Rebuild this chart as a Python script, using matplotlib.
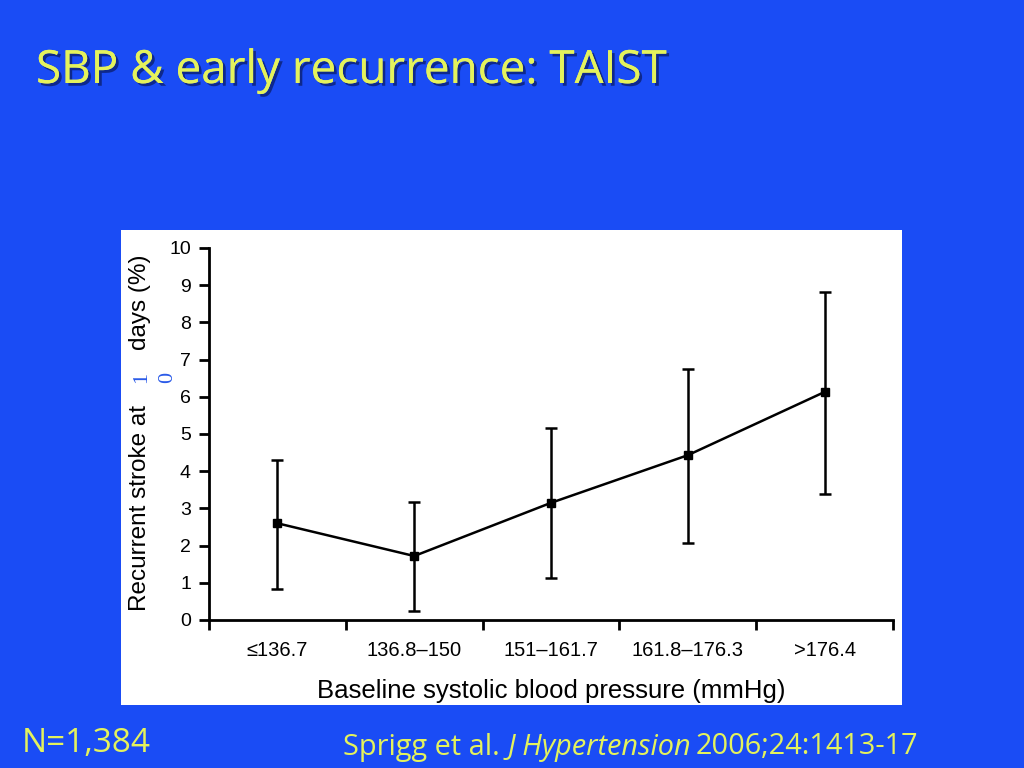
import matplotlib
matplotlib.use("Agg")
import matplotlib.pyplot as plt
import matplotlib.patheffects as pe
from matplotlib.patches import Rectangle

categories = ["≤136.7", "136.8–150", "151–161.7", "161.8–176.3", ">176.4"]
rate = [2.6, 1.72, 3.15, 4.43, 6.13]
ci_low = [0.83, 0.24, 1.13, 2.07, 3.39]
ci_high = [4.3, 3.17, 5.16, 6.75, 8.82]
y_ticks = list(range(0, 11))

BG = "#1a4cf5"
YEL = "#e4f25c"

fig = plt.figure(figsize=(10.24, 7.68), dpi=100)
fig.patch.set_facecolor(BG)

# white panel
fig.patches.append(Rectangle((121/1024, 1-705/768), (902-121)/1024, (705-230)/768,
                             transform=fig.transFigure, facecolor="white",
                             edgecolor="none", zorder=-5))

ax = fig.add_axes([209/1024, 1-620/768, (893-209)/1024, (620-248)/768])
ax.set_zorder(2)
ax.patch.set_alpha(0)

x = list(range(len(categories)))
yerr = [[r - l for r, l in zip(rate, ci_low)], [h - r for r, h in zip(rate, ci_high)]]
ax.errorbar(x, rate, yerr=yerr, fmt="s-", color="black", ms=6, lw=1.8,
            elinewidth=1.8, capsize=4, capthick=1.8, clip_on=False)

ax.set_xlim(-0.5, len(categories) - 0.5)
ax.set_ylim(0, 10)
ax.set_yticks(y_ticks)
ax.set_xticks([i - 0.5 for i in range(len(categories) + 1)])
ax.set_xticklabels([])
ax.set_xticks(x, minor=True)
ax.set_xticklabels(categories, minor=True, fontsize=14.5, family="Liberation Sans")
ax.tick_params(axis="x", which="minor", length=0, pad=15)
ax.tick_params(axis="x", which="major", length=7, width=2, direction="out")
ax.tick_params(axis="y", length=7, width=2, direction="out", labelsize=14, pad=6)
for lab in ax.get_yticklabels():
    lab.set_family("Liberation Sans")
for s in ["top", "right"]:
    ax.spines[s].set_visible(False)
for s in ["left", "bottom"]:
    ax.spines[s].set_linewidth(2)

ax.set_xlabel("Baseline systolic blood pressure (mmHg)", fontsize=18.5,
              family="Liberation Sans", labelpad=14)

# y label pieces
fig.text(140/1024, 1-508/768, "Recurrent stroke at", rotation=90, fontsize=17.5,
         family="Liberation Sans", ha="center", va="center", color="black")
fig.text(142/1024, 1-377/768, "1", rotation=90, fontsize=16,
         family="Liberation Serif", ha="center", va="center", color="#2a5ae8")
fig.text(168/1024, 1-377/768, "0", rotation=90, fontsize=16,
         family="Liberation Serif", ha="center", va="center", color="#2a5ae8")
fig.text(140/1024, 1-302/768, "days (%)", rotation=90, fontsize=17.5,
         family="Liberation Sans", ha="center", va="center", color="black")

shadow = [pe.withSimplePatchShadow(offset=(2, -2), shadow_rgbFace="#0a1a60", alpha=0.7), pe.Normal()]
fig.text(36/1024, 1-71/768, "SBP & early recurrence: TAIST", fontsize=33,
         family="Open Sans", color=YEL, ha="left", va="center", path_effects=shadow)
fig.text(22/1024, 1-744/768, "N=1,384", fontsize=24, family="Open Sans",
         color=YEL, ha="left", va="center")
t0 = fig.text(343/1024, 1-747/768, "Sprigg et al. ", fontsize=20.8, family="Open Sans",
              color=YEL, ha="left", va="center")
fig.canvas.draw()
r = fig.canvas.get_renderer()
bb = t0.get_window_extent(r)
t2 = fig.text(bb.x1 / 1024, 1-747/768, "J Hypertension", fontsize=20.8, family="Open Sans",
              style="italic", color=YEL, ha="left", va="center")
bb2 = t2.get_window_extent(r)
fig.text(bb2.x1 / 1024 + 0.005, 1-747/768, "2006;24:1413-17", fontsize=20.8, family="Open Sans",
         color=YEL, ha="left", va="center")

fig.savefig("out.png", dpi=100, facecolor=BG)
